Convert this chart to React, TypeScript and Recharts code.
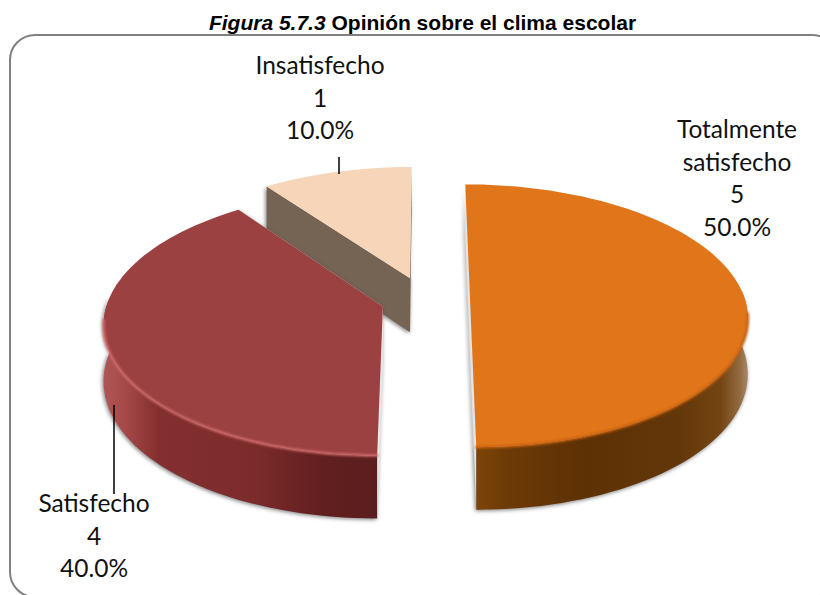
import React from 'react';
import { PieChart, Pie } from 'recharts';

const categories = ['Insatisfecho', 'Totalmente satisfecho', 'Satisfecho'];
const counts = [1, 5, 4];

// look of each slice, same order as the data
const explode = [0.18, 0.164, 0.16];
const topColors = ['#f6d5b8', '#e07519', '#9b4141'];
const rimColors = ['#f6d5b8', '#c9620f', '#d06a6a'];
const cutColors = ['#756354', '#e4e4e4', '#ece6e6'];
const sideStops = [
  [['0', '#756354'], ['1', '#756354']],
  [['0', '#7d4408'], ['0.12', '#6c3a06'], ['0.4', '#5d3104'], ['0.75', '#64370a'], ['0.9', '#744512'], ['0.97', '#926a40'], ['1', '#a88a68']],
  [['0', '#b05656'], ['0.07', '#a84a4a'], ['0.2', '#842f2f'], ['0.55', '#7c2b2b'], ['0.8', '#621f1f'], ['1', '#5b1e1e']],
];
// label anchors and leader lines
const labelBoxes = [
  { x: 320, y: 74, line: [339, 157, 339, 174] },
  { x: 737, y: 138, line: null },
  { x: 94, y: 512, line: [114, 405, 114, 494] },
];
const labelLines = [['Insatisfecho'], ['Totalmente', 'satisfecho'], ['Satisfecho']];

const chartData = categories.map((name, i) => ({ name, value: counts[i] }));

const RATIO = 0.471;
const PERSPECTIVE = 0.12;
const DEPTH = 55;
const RAD = Math.PI / 180;

function SliceShape(props: any) {
  const { cx, cy, outerRadius, startAngle, endAngle, index } = props;
  const mid = ((startAngle + endAngle) / 2) * RAD;
  const d = explode[index];
  const project = (X: number, Y: number, down = 0) => {
    const p = 1 / (1 + PERSPECTIVE * Y);
    return [cx + outerRadius * X * p, cy - outerRadius * RATIO * Y * p + down * DEPTH * p];
  };
  const ox = d * Math.cos(mid);
  const oy = d * Math.sin(mid);
  const lo = Math.min(startAngle, endAngle);
  const hi = Math.max(startAngle, endAngle);
  const arc: number[][] = [];
  for (let a = lo; a < hi; a += 2) arc.push([ox + Math.cos(a * RAD), oy + Math.sin(a * RAD)]);
  arc.push([ox + Math.cos(hi * RAD), oy + Math.sin(hi * RAD)]);

  const toPath = (pts: number[][]) => 'M' + pts.map((q) => `${q[0].toFixed(1)},${q[1].toFixed(1)}`).join('L');
  const top = arc.map((q) => project(q[0], q[1]));
  const bottom = arc.map((q) => project(q[0], q[1], 1));
  const v = project(ox, oy);
  const vb = project(ox, oy, 1);
  const gid = `side-${index}`;
  // only the part of the rim that faces the viewer gets a wall
  const wall = arc.filter((q) => q[1] - oy < 0.08);
  const wallTop = wall.map((q) => project(q[0], q[1]));
  const wallBottom = wall.map((q) => project(q[0], q[1], 1));
  const front = arc.filter((q) => q[1] - oy < -0.1).map((q) => project(q[0], q[1]));

  return (
    <g>
      <defs>
        <linearGradient id={gid} x1="0" y1="0" x2="1" y2="0">
          {sideStops[index].map((s) => (
            <stop key={s[0]} offset={s[0]} stopColor={s[1]} />
          ))}
        </linearGradient>
        <filter id={`soft-${index}`} x="-5%" y="-10%" width="110%" height="120%">
          <feGaussianBlur stdDeviation="1" />
        </filter>
      </defs>
      <g style={{ filter: 'drop-shadow(-1px 1px 2px rgba(70,70,70,0.75))' }}>
        <path d={toPath([top[0], v, vb, bottom[0]]) + 'Z'} fill={cutColors[index]} />
        <path d={toPath([top[top.length - 1], v, vb, bottom[bottom.length - 1]]) + 'Z'} fill={cutColors[index]} />
        {wall.length > 1 && (
          <path d={toPath([...wallTop, ...wallBottom.slice().reverse()]) + 'Z'} fill={`url(#${gid})`} />
        )}
      </g>
      <path d={toPath([v, ...top]) + 'Z'} fill={topColors[index]} />
      {front.length > 1 && (
        <path d={toPath(front)} fill="none" stroke={rimColors[index]} strokeWidth={2.5} strokeLinecap="round" filter={`url(#soft-${index})`} />
      )}
    </g>
  );
}

function SliceLabel(props: any) {
  const { index, value, percent } = props;
  const box = labelBoxes[index];
  const rows = [...labelLines[index], String(value), `${(percent * 100).toFixed(1)}%`];
  return (
    <g>
      {box.line && (
        <line x1={box.line[0]} y1={box.line[1]} x2={box.line[2]} y2={box.line[3]} stroke="#000" strokeWidth={1.5} />
      )}
      <text textAnchor="middle" fontFamily="Lato" fontSize={24.5} fill="#111">
        {rows.map((r, i) => (
          <tspan key={i} x={box.x} y={box.y + i * 32.7}>
            {r}
          </tspan>
        ))}
      </text>
    </g>
  );
}

export default function App() {
  return (
    <div style={{ position: 'fixed', left: 0, top: 0, width: 820, height: 595, background: '#fff', overflow: 'hidden' }}>
      <div
        style={{
          position: 'absolute',
          left: 0,
          width: 845,
          top: 11,
          textAlign: 'center',
          fontFamily: 'Liberation Sans',
          fontSize: 21,
          lineHeight: '24px',
          fontWeight: 'bold',
          color: '#000',
        }}
      >
        <i>Figura 5.7.3</i> Opinión sobre el clima escolar
      </div>
      <div
        style={{
          position: 'absolute',
          left: 9,
          top: 34,
          width: 825,
          height: 560,
          border: '2px solid #808080',
          borderRadius: 26,
        }}
      />
      <div style={{ position: 'absolute', left: 0, top: 0 }}>
        <PieChart width={820} height={595} margin={{ top: 0, right: 0, bottom: 0, left: 0 }}>
          <Pie
            data={chartData}
            dataKey="value"
            nameKey="name"
            cx={425}
            cy={300}
            innerRadius={0}
            outerRadius={275}
            startAngle={126}
            endAngle={-234}
            stroke="none"
            isAnimationActive={false}
            shape={SliceShape}
            label={SliceLabel}
            labelLine={false}
          />
        </PieChart>
      </div>
    </div>
  );
}
